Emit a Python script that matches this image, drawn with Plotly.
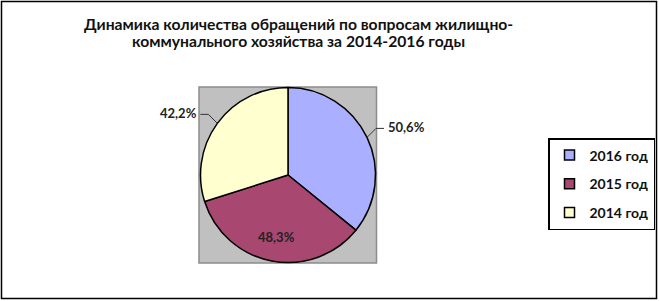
import math
import plotly.graph_objects as go

categories = ["2016 год", "2015 год", "2014 год"]
values = [50.6, 48.3, 42.2]
value_labels = ["50,6%", "48,3%", "42,2%"]
colors = ["#AAB0FF", "#A8476F", "#FFFFD0"]
title_lines = ["Динамика количества обращений по вопросам жилищно-",
               "коммунального хозяйства за 2014-2016 годы"]

W, H = 659, 301
font_family = "Lato, 'Open Sans', sans-serif"

# pie geometry (pixels)
px0, px1, py0, py1 = 200.5, 375.5, 87.5, 262.5
cx, cy = (px0 + px1) / 2, (py0 + py1) / 2
R = (px1 - px0) / 2

def pxx(x):
    return x / W

def pyy(y):
    return 1 - y / H

fig = go.Figure()
fig.add_trace(go.Pie(
    labels=categories,
    values=values,
    textinfo="none",
    sort=False,
    direction="clockwise",
    rotation=0,
    showlegend=False,
    marker=dict(colors=colors, line=dict(color="#000000", width=1.5)),
    domain=dict(x=[pxx(px0), pxx(px1)], y=[pyy(py1), pyy(py0)]),
    hovertext=value_labels,
    hoverinfo="label+text",
))

# legend entries (native legend, one entry per category)
for cat, col in zip(categories, colors):
    fig.add_trace(go.Scatter(
        x=[None], y=[None], mode="markers", name=cat, legendgroup=cat,
        marker=dict(symbol="square", size=10, color=col,
                    line=dict(color="#000000", width=1.5)),
        showlegend=True, hoverinfo="skip",
    ))

# value labels with leader lines, placed from slice mid-angles
total = sum(values)
cum = 0.0
annotations = []
for v, lab in zip(values, value_labels):
    mid = (cum + v / 2) / total * 2 * math.pi
    cum += v
    sx, sy = math.sin(mid), -math.cos(mid)
    if sy > 0.5:  # bottom slice -> label inside
        lx, ly = cx + 0.72 * R * sx, cy + 0.72 * R * sy
        annotations.append(dict(x=pxx(lx), y=pyy(ly), xref="paper", yref="paper",
                                text=lab, showarrow=False, xanchor="center", yanchor="middle"))
    else:
        side = 1 if sx > 0 else -1
        ex, ey = cx + R * sx, cy + R * sy
        mx, my = ex + side * 9, ey - 9
        tx = mx + side * 8
        fig.add_shape(type="path", xref="paper", yref="paper",
                      path=f"M {pxx(ex)} {pyy(ey)} L {pxx(mx)} {pyy(my)} L {pxx(tx)} {pyy(my)}",
                      line=dict(color="#333333", width=1))
        annotations.append(dict(x=pxx(tx + side * 1.5), y=pyy(my - 1), xref="paper", yref="paper",
                                text=lab, showarrow=False,
                                xanchor="left" if side > 0 else "right", yanchor="middle"))
for a in annotations:
    a["font"] = dict(family=font_family, size=13, color="#222222", weight="bold")

# title lines
for i, line in enumerate(title_lines):
    annotations.append(dict(x=pxx(298), y=pyy(24 + 17.5 * i), xref="paper", yref="paper",
                            text=line, showarrow=False, xanchor="center", yanchor="middle",
                            font=dict(family=font_family, size=15.7, color="#111111", weight="bold")))

# gray plot area
fig.add_shape(type="rect", xref="paper", yref="paper",
              x0=pxx(199), x1=pxx(376.5), y0=pyy(263), y1=pyy(87),
              fillcolor="#C0C0C0", line=dict(color="#8C8C8C", width=1.5), layer="below")
# outer chart border
fig.add_shape(type="rect", xref="paper", yref="paper",
              x0=pxx(1.5), x1=pxx(656.5), y0=pyy(298.5), y1=pyy(1.5),
              fillcolor="rgba(0,0,0,0)", line=dict(color="#000000", width=1.5))

fig.update_layout(
    width=W, height=H,
    margin=dict(l=0, r=0, t=0, b=0),
    paper_bgcolor="#FFFFFF",
    plot_bgcolor="rgba(0,0,0,0)",
    xaxis=dict(visible=False),
    yaxis=dict(visible=False),
    annotations=annotations,
    showlegend=True,
    legend=dict(x=pxx(655), xanchor="right", y=pyy(138), yanchor="top",
                bordercolor="#000000", borderwidth=1.5, bgcolor="#FFFFFF",
                font=dict(family=font_family, size=14, color="#111111", weight="bold"),
                tracegroupgap=7.5, itemwidth=30),
    hovermode="closest",
)

fig.write_html("out.html")
